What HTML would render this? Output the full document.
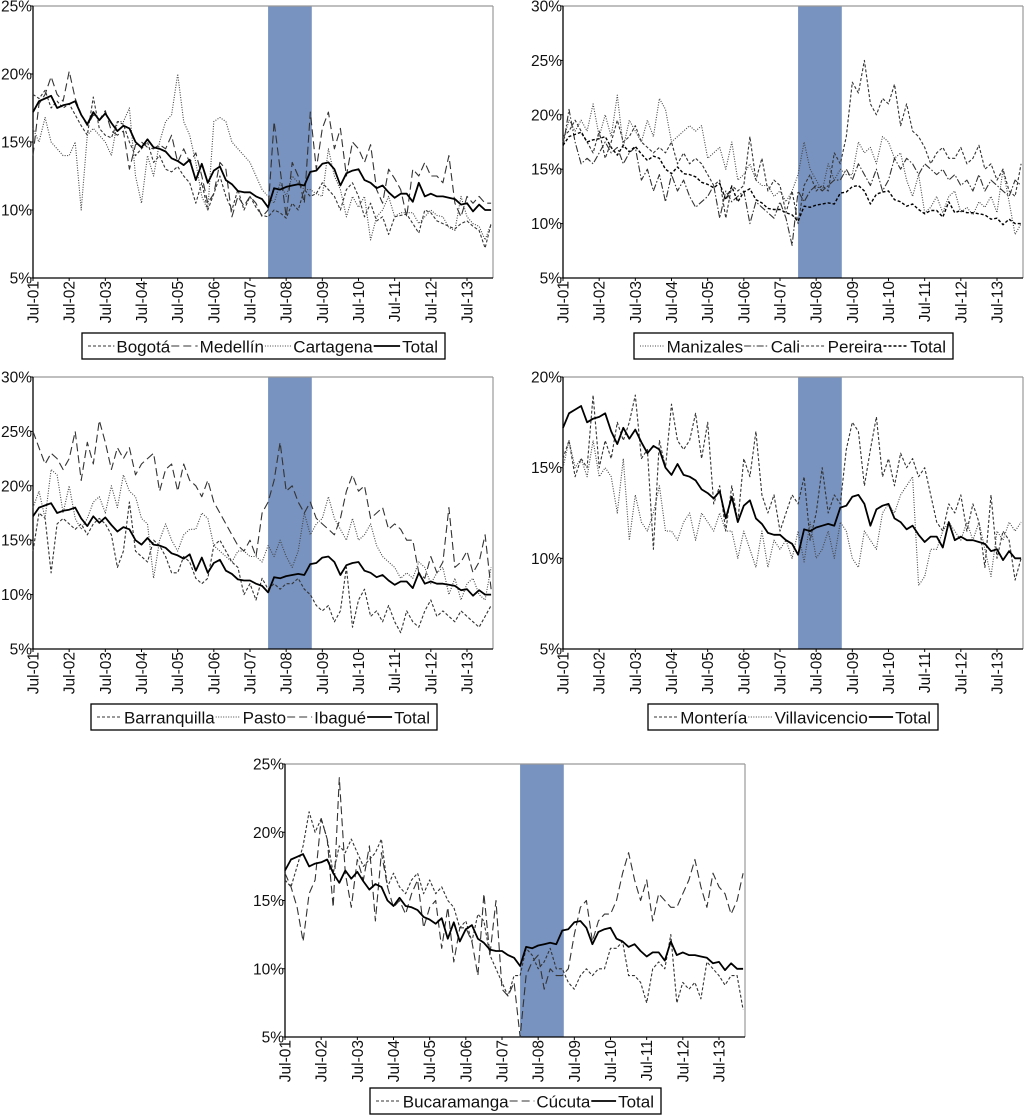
<!DOCTYPE html>
<html><head><meta charset="utf-8">
<style>
body{margin:0;background:#fff;width:1024px;height:1115px;overflow:hidden;font-family:"Liberation Sans",sans-serif;}
svg{position:absolute;left:0;top:0;}
</style></head>
<body>
<svg id="chart" width="1024" height="1115" viewBox="0 0 1024 1115"></svg>
<script>
// ---- data (bimonthly values from Jul-01, in %) ----
const xTickLabels = ["Jul-01","Jul-02","Jul-03","Jul-04","Jul-05","Jul-06","Jul-07","Jul-08","Jul-09","Jul-10","Jul-11","Jul-12","Jul-13"];
const shadeStartMonth = 78, shadeEndMonth = 92.5;
const total = [17.2,18.0,18.2,18.4,17.5,17.7,17.8,18.0,17.0,16.3,17.2,16.6,17.1,16.4,15.8,16.2,16.0,15.0,14.6,15.2,14.6,14.5,14.3,13.8,13.6,13.3,13.7,12.2,13.4,12.0,12.9,13.2,12.2,11.9,11.4,11.3,11.3,11.0,10.8,10.2,11.6,11.5,11.7,11.8,11.9,11.8,12.8,12.9,13.4,13.5,13.0,11.8,12.7,12.9,13.0,12.2,12.0,11.6,11.8,11.3,10.9,11.2,11.2,10.6,12.0,11.0,11.2,11.0,11.0,10.9,10.8,10.4,10.5,9.9,10.4,10.0,10.0];
const bogota = [18.5,18.2,18.8,17.5,18.0,17.5,17.8,17.0,16.2,15.5,18.3,16.0,15.5,15.3,16.5,16.3,15.0,14.0,14.5,15.0,13.5,14.0,13.0,12.8,13.2,12.5,12.0,10.5,12.0,10.0,11.2,12.5,11.0,10.0,11.5,10.0,11.0,10.2,9.6,9.5,10.0,9.8,9.4,10.5,10.0,11.5,11.0,11.2,12.0,11.5,11.0,10.0,11.5,12.0,11.0,9.5,10.5,9.2,9.5,8.2,9.5,9.6,9.7,9.0,8.3,10.0,9.8,9.2,9.0,8.8,8.6,9.0,9.2,8.8,8.5,7.2,9.0];
const medellin = [14.0,17.8,18.5,19.8,18.5,18.0,20.2,18.2,17.0,16.2,17.0,16.6,17.3,15.8,15.5,15.8,13.0,14.8,15.0,14.6,14.5,14.8,14.5,15.5,13.5,14.5,13.5,14.2,12.5,10.5,11.2,13.5,13.0,9.5,11.0,10.3,11.0,10.5,9.5,10.0,16.5,13.0,9.5,13.5,12.5,10.5,17.2,13.0,16.0,17.2,14.5,16.0,12.5,15.0,14.5,13.5,14.8,11.5,10.5,13.0,12.3,11.5,9.5,13.0,12.5,13.5,12.5,12.5,12.0,14.0,10.5,9.5,11.0,10.5,11.0,10.5,10.5];
const cartagena = [16.0,15.0,16.8,15.0,14.5,14.0,14.0,15.0,10.0,15.5,16.0,15.5,15.0,14.0,16.5,16.5,17.5,12.5,10.5,14.0,12.5,15.0,16.5,17.0,20.0,16.5,15.5,13.5,11.0,10.0,16.5,16.8,16.5,15.0,14.5,14.0,13.5,12.5,11.5,11.0,10.5,12.0,11.0,12.5,12.0,11.5,11.5,11.2,11.0,14.5,12.5,11.5,9.5,11.0,10.2,11.0,7.8,9.5,10.0,11.0,9.5,9.8,9.8,9.8,9.0,9.5,10.0,9.6,9.5,8.7,8.5,11.0,9.5,9.0,8.8,7.8,9.0];
const manizales = [17.5,19.5,18.5,19.5,18.5,21.0,18.0,20.0,18.0,21.8,17.0,19.5,18.5,17.5,19.5,18.0,21.5,20.5,17.5,18.0,18.5,19.0,18.5,19.0,16.0,16.5,17.0,15.0,17.5,14.0,14.5,15.5,14.0,13.5,13.5,12.5,13.0,12.0,13.0,14.5,17.5,15.0,14.0,13.0,15.5,14.0,15.0,14.5,14.5,17.5,16.5,17.0,15.5,18.0,17.5,16.0,16.5,14.0,12.5,14.5,11.0,11.5,12.5,11.0,12.5,13.0,11.0,11.5,10.8,12.0,11.5,12.5,11.0,15.0,12.0,9.0,10.0];
const cali = [17.0,20.5,17.5,15.5,16.0,15.5,16.5,17.5,16.5,17.0,15.5,16.5,17.0,14.0,15.0,13.0,14.5,12.0,14.5,13.0,14.0,12.5,11.5,12.0,12.5,13.5,10.5,13.0,12.0,12.5,13.0,10.0,12.0,11.5,11.0,10.5,12.0,10.5,8.0,13.0,12.0,13.0,13.5,13.0,13.5,14.0,14.0,15.0,14.0,15.5,14.5,13.5,15.0,13.0,14.0,16.0,15.0,16.0,15.5,14.5,15.5,15.0,14.5,15.0,14.0,14.5,13.5,14.0,13.0,14.5,13.0,14.0,13.5,13.0,12.5,14.0,13.5];
const pereira = [18.0,18.5,19.5,18.5,17.5,16.5,18.5,16.0,17.5,19.5,17.5,18.0,19.0,17.5,17.0,16.5,17.0,16.5,17.5,15.5,16.5,15.5,16.0,15.5,14.5,13.5,14.0,10.5,13.5,13.0,13.5,18.0,14.0,16.0,13.0,14.0,13.5,11.0,13.0,10.0,13.5,14.5,13.0,13.5,13.0,16.5,15.5,18.0,23.0,22.0,25.0,21.0,20.0,21.5,21.0,22.8,19.0,21.0,18.5,18.0,17.0,15.5,16.5,17.0,16.0,16.0,17.0,15.5,16.0,17.2,15.0,15.5,14.0,15.0,13.0,12.5,15.5];
const barranquilla = [14.0,17.5,17.0,12.0,16.5,17.0,16.5,16.0,16.5,15.5,16.5,17.0,16.5,15.5,12.5,14.0,18.5,14.0,13.5,13.0,15.0,14.5,13.5,12.0,12.0,13.5,13.0,11.5,11.0,11.5,14.5,15.0,14.0,13.0,12.5,10.0,11.0,9.5,11.5,10.5,11.0,10.5,11.0,11.0,11.5,10.5,10.0,9.0,8.5,9.0,7.5,8.5,12.5,7.0,9.5,10.5,8.0,8.5,7.5,9.0,7.5,6.5,8.5,7.5,7.0,8.5,9.5,8.0,8.5,8.0,7.5,8.5,8.0,7.5,7.0,8.0,9.0];
const pasto = [18.0,19.5,17.0,21.5,21.0,17.5,20.0,17.0,16.0,17.0,18.5,19.0,17.5,20.0,18.0,21.0,19.5,19.0,17.0,16.5,11.5,15.0,16.5,15.0,14.0,15.5,16.0,16.0,17.5,17.0,14.5,14.0,13.5,13.0,14.0,14.0,13.5,13.5,13.0,14.5,13.5,15.0,13.5,12.5,14.0,17.5,15.5,16.5,17.0,19.0,17.0,16.0,15.0,17.0,15.0,15.5,16.5,14.5,13.5,13.0,12.5,11.5,12.0,11.5,13.0,12.5,11.0,12.0,12.5,10.0,11.5,9.5,11.0,11.5,10.0,9.5,12.5];
const ibague = [25.0,23.5,22.0,23.0,22.5,21.5,22.5,25.0,20.5,24.0,22.0,26.0,24.0,21.5,23.5,22.5,23.5,21.0,22.0,22.5,23.0,19.5,21.5,22.0,19.5,22.0,20.5,20.0,19.0,20.5,18.5,17.5,16.5,15.5,14.5,14.0,15.0,13.5,17.5,18.5,20.5,24.0,19.5,20.0,18.5,17.5,18.5,17.0,16.5,16.0,15.5,17.0,19.5,21.0,19.5,20.0,17.0,17.5,18.0,16.0,16.5,16.0,15.0,15.0,12.0,11.5,13.5,12.0,13.0,18.0,12.5,13.0,14.0,12.0,13.0,15.5,10.5];
const monteria = [15.5,16.5,14.5,15.5,15.0,19.0,15.0,16.5,15.5,17.5,16.5,17.5,19.0,15.5,16.0,10.5,16.5,15.0,18.5,16.5,16.0,16.5,18.0,15.5,17.5,13.0,14.0,11.5,14.0,12.0,15.5,14.5,17.0,13.5,12.5,13.5,11.5,12.5,13.5,13.0,14.5,11.0,12.5,15.0,12.5,13.5,13.0,16.0,17.5,17.0,14.0,16.0,17.8,14.5,15.5,14.0,15.8,15.0,15.5,14.5,15.0,13.5,12.0,11.5,13.0,12.5,13.5,11.5,13.0,12.0,9.5,13.5,10.0,11.5,11.0,8.8,10.0];
const villavicencio = [15.0,16.5,15.0,15.5,14.5,16.5,14.5,15.0,14.5,12.5,15.5,11.0,13.5,12.0,11.5,12.5,14.0,11.5,11.5,11.0,12.0,12.5,11.0,12.5,12.0,11.5,12.5,11.5,11.5,10.0,11.5,10.5,9.5,11.5,9.5,11.0,10.5,11.0,10.0,11.5,9.8,12.0,10.0,10.5,11.5,10.0,12.0,11.5,10.0,9.5,11.5,11.0,10.5,12.5,13.0,12.5,13.5,14.0,14.5,8.5,9.0,10.5,10.5,11.5,12.0,11.5,11.0,12.0,11.0,12.0,10.5,9.0,11.5,11.0,12.0,11.5,12.0];
const bucaramanga = [16.5,16.0,17.5,19.0,21.5,20.0,21.0,19.5,17.0,19.0,18.5,19.5,18.5,17.5,18.0,18.5,19.5,16.0,17.0,16.0,15.5,16.5,17.0,15.5,16.5,15.5,16.0,15.0,14.5,13.0,13.5,12.0,14.0,13.5,11.0,10.0,9.0,8.0,9.5,9.5,11.5,11.0,10.0,10.5,11.5,10.0,10.0,9.0,8.5,9.5,10.0,9.5,10.0,10.0,11.5,11.5,12.0,9.5,9.5,9.0,7.5,10.0,10.5,10.0,12.5,7.5,9.0,8.5,9.0,7.8,10.5,10.0,9.5,8.8,9.5,9.5,7.0];
const cucuta = [17.0,16.0,14.5,12.0,15.5,16.5,21.0,19.5,14.5,24.0,17.0,14.5,18.0,16.5,19.0,13.5,18.5,16.0,14.5,15.0,14.0,15.5,16.5,13.0,14.5,15.0,11.5,14.5,10.5,13.0,13.0,12.0,9.5,15.5,11.0,15.0,8.5,8.0,9.0,5.0,9.5,10.5,11.0,8.5,10.0,9.5,9.5,10.0,12.5,14.5,15.0,12.0,13.5,14.0,14.0,15.0,17.0,18.5,16.5,15.0,16.5,13.5,15.5,15.0,14.5,14.5,15.5,16.5,18.0,16.0,14.5,17.0,16.0,15.5,14.0,15.0,17.0];

const NS = "http://www.w3.org/2000/svg";
const svg = document.getElementById('chart');
function mk(tag, attrs, parent){const e=document.createElementNS(NS,tag);for(const k in attrs)e.setAttribute(k,attrs[k]);(parent||svg).appendChild(e);return e;}

const STY = {
  short:{dash:"3,2",w:1.1,c:"#333"},
  long:{dash:"8,4",w:1.1,c:"#333"},
  dot:{dash:"1,1.5",w:1.1,c:"#444"},
  dashdot:{dash:"7,2,1.5,2",w:1.1,c:"#333"},
  solid:{dash:"",w:1.8,c:"#000"},
  totaldash:{dash:"3,2",w:1.4,c:"#000"}
};

function panel(p){
  const g = mk('g',{});
  
  
  const L=p.x, T=p.y, W=p.w, H=p.h, B=T+H;
  const pxm = (W*434/460)/144;
  const xs = m => L + m*pxm;
  const ys = v => B - (v-5)/(p.ymax-5)*H;
  const sh = mk('rect',{x:xs(shadeStartMonth),y:T,width:xs(shadeEndMonth)-xs(shadeStartMonth),height:H,fill:"#7893bf"},g);
  
  
  mk('line',{x1:L,y1:T,x2:L+W,y2:T,stroke:"#999","stroke-width":1.2},g);
  mk('line',{x1:L+W,y1:T,x2:L+W,y2:B,stroke:"#999","stroke-width":1.2},g);
  const ya = mk('line',{x1:L,y1:T,x2:L,y2:B,stroke:"#000","stroke-width":1.3},g);
  
  
  const xa = mk('line',{x1:L,y1:B,x2:L+W,y2:B,stroke:"#000","stroke-width":1.3},g);
  
  
  for(let v=5; v<=p.ymax; v+=5){
    const y=ys(v);
    mk('line',{x1:L-3,y1:y,x2:L,y2:y,stroke:"#000"},g);
    const t=mk('text',{x:L-1,y:y+5.5,"text-anchor":"end","font-size":"15.5",fill:"#111"},g);
    t.textContent=v+"%";
    
    
  }
  xTickLabels.forEach((lab,i)=>{
    const x=xs(i*12);
    mk('line',{x1:x,y1:B,x2:x,y2:B+3,stroke:"#000"},g);
    const t=mk('text',{x:0,y:0,"text-anchor":"end","font-size":"15.5",fill:"#111",transform:`translate(${x+5.5},${B+3}) rotate(-90)`},g);
    t.textContent=lab;
    
    
  });
  p.series.forEach(s=>{
    const st=STY[s.style];
    const d=s.data.map((v,i)=>(i?"L":"M")+xs(i*2).toFixed(1)+","+ys(v).toFixed(1)).join(" ");
    const path=mk('path',{d:d,fill:"none",stroke:st.c,"stroke-width":st.w,"stroke-dasharray":st.dash,"stroke-linejoin":"round"},g);
    
    
  });
  // legend
  const lg = mk('g',{},g);
  
  
  const lx=p.lx, ly=p.ly;
  mk('rect',{x:lx,y:ly,width:p.lw,height:26,fill:"#fff",stroke:"#000","stroke-width":1.3},lg);
  const texts=[];
  let sumT=0;
  p.series.forEach(s=>{
    const t=mk('text',{x:0,y:ly+19.5,"font-size":"17",fill:"#111"},lg);
    t.textContent=s.label;
    
    
    const w=t.getComputedTextLength();
    texts.push([t,w]); sumT+=w;
  });
  let sample=(p.lw-12-sumT)/p.series.length - 3;
  sample=Math.max(12,Math.min(36,sample));
  let cx=lx+6;
  p.series.forEach((s,i)=>{
    const st=STY[s.style];
    mk('line',{x1:cx,y1:ly+13,x2:cx+sample,y2:ly+13,stroke:st.c,"stroke-width":st.w,"stroke-dasharray":st.dash},lg);
    cx+=sample+2;
    texts[i][0].setAttribute('x',cx);
    cx+=texts[i][1]+1;
  });
}

panel({name:"panel-bogota-medellin-cartagena",x:33,y:6,w:460,h:272,ymax:25,lx:82,ly:333,lw:363,
  series:[{key:"bogota",label:"Bogotá",style:"short",data:bogota},{key:"medellin",label:"Medellín",style:"long",data:medellin},{key:"cartagena",label:"Cartagena",style:"dot",data:cartagena},{key:"total",label:"Total",style:"solid",data:total}]});
panel({name:"panel-manizales-cali-pereira",x:563,y:6,w:460,h:272,ymax:30,lx:634,ly:333,lw:319,
  series:[{key:"manizales",label:"Manizales",style:"dot",data:manizales},{key:"cali",label:"Cali",style:"dashdot",data:cali},{key:"pereira",label:"Pereira",style:"short",data:pereira},{key:"total",label:"Total",style:"totaldash",data:total}]});
panel({name:"panel-barranquilla-pasto-ibague",x:33,y:377,w:460,h:272,ymax:30,lx:91,ly:704,lw:346,
  series:[{key:"barranquilla",label:"Barranquilla",style:"short",data:barranquilla},{key:"pasto",label:"Pasto",style:"dot",data:pasto},{key:"ibague",label:"Ibagué",style:"long",data:ibague},{key:"total",label:"Total",style:"solid",data:total}]});
panel({name:"panel-monteria-villavicencio",x:563,y:377,w:460,h:272,ymax:20,lx:648,ly:704,lw:290,
  series:[{key:"monteria",label:"Montería",style:"short",data:monteria},{key:"villavicencio",label:"Villavicencio",style:"dot",data:villavicencio},{key:"total",label:"Total",style:"solid",data:total}]});
panel({name:"panel-bucaramanga-cucuta",x:285,y:764,w:460,h:273,ymax:25,lx:370,ly:1088,lw:291,
  series:[{key:"bucaramanga",label:"Bucaramanga",style:"short",data:bucaramanga},{key:"cucuta",label:"Cúcuta",style:"long",data:cucuta},{key:"total",label:"Total",style:"solid",data:total}]});
</script>
</body></html>
